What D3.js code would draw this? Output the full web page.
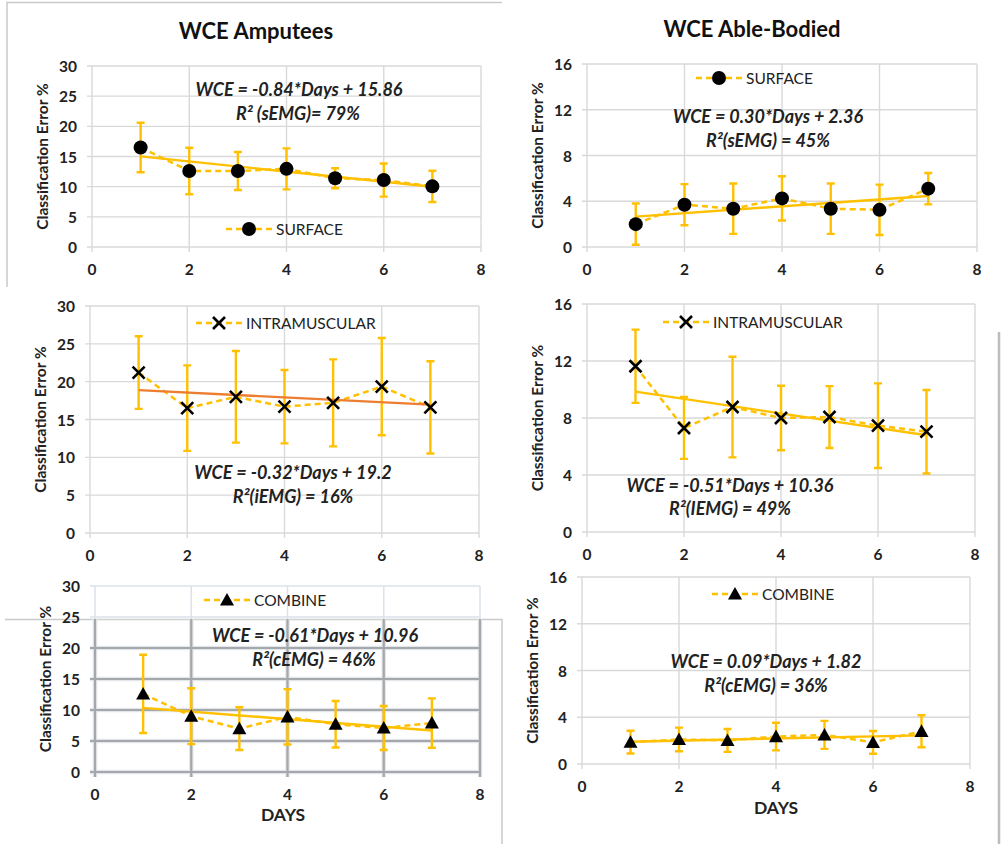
<!DOCTYPE html>
<html>
<head>
<meta charset="utf-8">
<script src="https://cdn.jsdelivr.net/npm/d3@7/dist/d3.min.js"></script>
<style>
  html, body { margin: 0; padding: 0; background: #fff; }
  svg { display: block; font-family: Lato, "Open Sans", "Liberation Sans", sans-serif; }
</style>
</head>
<body>
<svg id="chart" width="1002" height="844"></svg>
<script>
// ---- data -------------------------------------------------------------
const days = [1, 2, 3, 4, 5, 6, 7];
const xTicks = [0, 2, 4, 6, 8];
const ticks30 = [0, 5, 10, 15, 20, 25, 30];
const ticks16 = [0, 4, 8, 12, 16];

// Amputees
const ampSurface     = [16.5, 12.6, 12.6, 12.95, 11.4, 11.1, 10.05];
const ampSurfaceErr  = [4.1, 3.85, 3.15, 3.4, 1.65, 2.75, 2.6];
const ampIntra       = [21.2, 16.5, 18.0, 16.7, 17.2, 19.35, 16.6];
const ampIntraErr    = [4.8, 5.65, 6.06, 4.85, 5.75, 6.43, 6.1];
const ampCombine     = [12.6, 9.0, 7.0, 8.9, 7.7, 7.1, 7.9];
const ampCombineErr  = [6.3, 4.5, 3.44, 4.46, 3.76, 3.55, 3.98];

// Able-bodied
const abSurface      = [2.0, 3.7, 3.35, 4.25, 3.35, 3.25, 5.1];
const abSurfaceErr   = [1.8, 1.8, 2.2, 1.93, 2.2, 2.2, 1.37];
const abIntra        = [11.63, 7.3, 8.77, 8.0, 8.07, 7.46, 7.04];
const abIntraErr     = [2.57, 2.17, 3.53, 2.26, 2.17, 2.97, 2.93];
const abCombine      = [1.87, 2.1, 2.02, 2.35, 2.49, 1.85, 2.8];
const abCombineErr   = [0.97, 1.01, 0.98, 1.18, 1.2, 0.97, 1.37];

// linear fits: WCE = slope*Days + intercept
const slopes     = [-0.84, 0.30, -0.32, -0.51, -0.61, 0.09];
const intercepts = [15.86, 2.36, 19.2, 10.36, 10.96, 1.82];
const eqLabels = [
  "WCE = -0.84*Days + 15.86",
  "WCE = 0.30*Days + 2.36",
  "WCE = -0.32*Days + 19.2",
  "WCE = -0.51*Days + 10.36",
  "WCE = -0.61*Days + 10.96",
  "WCE = 0.09*Days + 1.82"
];
const r2Labels = [
  "R\u00B2 (sEMG)= 79%",
  "R\u00B2(sEMG) = 45%",
  "R\u00B2(iEMG) = 16%",
  "R\u00B2(IEMG) = 49%",
  "R\u00B2(cEMG) = 46%",
  "R\u00B2(cEMG) = 36%"
];
const seriesNames = ["SURFACE", "SURFACE", "INTRAMUSCULAR", "INTRAMUSCULAR", "COMBINE", "COMBINE"];
const seriesValues = [ampSurface, abSurface, ampIntra, abIntra, ampCombine, abCombine];
const seriesErrors = [ampSurfaceErr, abSurfaceErr, ampIntraErr, abIntraErr, ampCombineErr, abCombineErr];
const markerTypes = ["circle", "circle", "cross", "cross", "triangle", "triangle"];
const columnTitles = ["WCE Amputees", "WCE Able-Bodied"];

// ---- layout -----------------------------------------------------------
const GOLD = "#FFC000";
const panels = [
  { x0: 92,  x1: 481, y0: 66,  y1: 247, yTicks: ticks30, leg: [226, 229], eq: [299, 89],  r2: [298, 113], trend: GOLD },
  { x0: 587, x1: 977, y0: 64,  y1: 247, yTicks: ticks16, leg: [696, 78],  eq: [768, 116], r2: [768, 140], trend: GOLD },
  { x0: 90,  x1: 479, y0: 306, y1: 533, yTicks: ticks30, leg: [196, 323], eq: [293, 472], r2: [293, 496], trend: "#ED7D31" },
  { x0: 587, x1: 975, y0: 304, y1: 532, yTicks: ticks16, leg: [663, 322], eq: [730, 485], r2: [730, 508], trend: GOLD },
  { x0: 95,  x1: 480, y0: 586, y1: 772, yTicks: ticks30, leg: [204, 600], eq: [315, 635], r2: [314, 659], trend: GOLD, heavySplit: 619, xTitle: [283, 814] },
  { x0: 582, x1: 970, y0: 577, y1: 764, yTicks: ticks16, leg: [712, 594], eq: [766, 661], r2: [766, 685], trend: GOLD, xTitle: [776, 807] }
];

const svg = d3.select("#chart");
svg.append("rect").attr("width", 1002).attr("height", 844).attr("fill", "#fff");

// frame edges of the assembled figure
const frame = svg.append("g").attr("fill", "none").attr("stroke", "#c9c9c9").attr("stroke-width", 1.5);
frame.append("path").attr("d", "M7,287 L7,2.5 L502,2.5");
frame.append("path").attr("d", "M5,619.5 L502,619.5 L502,844");
frame.append("path").attr("d", "M999,332 L999,844").attr("stroke", "#bdbdbd").attr("stroke-width", 2.5);

// column titles
svg.append("text").attr("x", 256).attr("y", 30).text(columnTitles[0]);
svg.append("text").attr("x", 752).attr("y", 28).text(columnTitles[1]);
svg.selectAll("text").attr("text-anchor", "middle").attr("dominant-baseline", "central")
  .attr("font-size", 22).attr("font-weight", 700).attr("fill", "#111");

function drawMarker(g, type, cx, cy) {
  if (type === "circle") {
    g.append("circle").attr("cx", cx).attr("cy", cy).attr("r", 7).attr("fill", "#000");
  } else if (type === "cross") {
    const s = 6;
    g.append("path")
      .attr("d", `M${cx - s},${cy - s}L${cx + s},${cy + s}M${cx - s},${cy + s}L${cx + s},${cy - s}`)
      .attr("stroke", "#000").attr("stroke-width", 2.6).attr("fill", "none");
  } else {
    const s = 7;
    g.append("path")
      .attr("d", `M${cx},${cy - s}L${cx + s},${cy + s * 0.8}L${cx - s},${cy + s * 0.8}Z`)
      .attr("fill", "#000");
  }
}

panels.forEach((p, i) => {
  const g = svg.append("g");
  const x = d3.scaleLinear().domain([0, 8]).range([p.x0, p.x1]);
  const yMax = d3.max(p.yTicks);
  const y = d3.scaleLinear().domain([0, yMax]).range([p.y1, p.y0]);

  // grid + tick marks
  const drawGrid = (sel, color, width) => {
    sel.selectAll(".hg").data(p.yTicks).join("line")
      .attr("x1", p.x0 - 5).attr("x2", p.x1)
      .attr("y1", d => y(d)).attr("y2", d => y(d))
      .attr("stroke", color).attr("stroke-width", width);
    sel.selectAll(".vg").data(xTicks).join("line").attr("class", "vg")
      .attr("x1", d => x(d)).attr("x2", d => x(d))
      .attr("y1", p.y0).attr("y2", p.y1 + 5)
      .attr("stroke", color).attr("stroke-width", width);
  };
  if (p.heavySplit) {
    const id = "clip" + i;
    const defs = svg.append("defs");
    defs.append("clipPath").attr("id", id + "a").append("rect")
      .attr("x", 0).attr("y", 0).attr("width", 1002).attr("height", p.heavySplit);
    defs.append("clipPath").attr("id", id + "b").append("rect")
      .attr("x", 0).attr("y", p.heavySplit).attr("width", 1002).attr("height", 844 - p.heavySplit);
    drawGrid(g.append("g").attr("clip-path", `url(#${id}a)`), "#dbe2ea", 1.5);
    const heavy = g.append("g").attr("clip-path", `url(#${id}b)`);
    drawGrid(heavy.append("g"), "#e4e6e9", 4.5);
    drawGrid(heavy.append("g"), "#a4a7ab", 2.2);
  } else {
    drawGrid(g.append("g"), "#d9d9d9", 1.4);
  }

  // tick labels
  g.append("g").selectAll("text").data(p.yTicks).join("text")
    .attr("x", p.x0 - 15).attr("y", d => y(d)).attr("text-anchor", "end")
    .attr("dominant-baseline", "central").attr("font-size", 15.5).attr("font-weight", 700)
    .attr("fill", "#222").text(d => d);
  g.append("g").selectAll("text").data(xTicks).join("text")
    .attr("x", d => x(d)).attr("y", p.y1 + 22).attr("text-anchor", "middle")
    .attr("dominant-baseline", "central").attr("font-size", 15.5).attr("font-weight", 700)
    .attr("fill", "#222").text(d => d);

  // axis titles
  g.append("text")
    .attr("transform", `translate(${p.x0 - 50},${(p.y0 + p.y1) / 2}) rotate(-90)`)
    .attr("text-anchor", "middle").attr("dominant-baseline", "central")
    .attr("font-size", 15.5).attr("font-weight", 700).attr("fill", "#222")
    .text("Classification Error %");
  if (p.xTitle) {
    g.append("text").attr("x", p.xTitle[0]).attr("y", p.xTitle[1])
      .attr("text-anchor", "middle").attr("dominant-baseline", "central")
      .attr("font-size", 17.5).attr("font-weight", 700).attr("fill", "#222").text("DAYS");
  }

  const vals = seriesValues[i], errs = seriesErrors[i];
  const pts = days.map((d, k) => ({ d, v: vals[k], e: errs[k] }));

  // error bars
  const eb = g.append("g").attr("stroke", GOLD).attr("stroke-width", 2.4).attr("fill", "none");
  pts.forEach(q => {
    const xt = x(q.d), yt = y(q.v + q.e), yb = y(q.v - q.e);
    eb.append("path").attr("d", `M${xt},${yt}L${xt},${yb}M${xt - 4},${yt}L${xt + 4},${yt}M${xt - 4},${yb}L${xt + 4},${yb}`);
  });

  // dashed series line
  g.append("path").datum(pts)
    .attr("d", d3.line().x(q => x(q.d)).y(q => y(q.v)))
    .attr("fill", "none").attr("stroke", GOLD).attr("stroke-width", 2.5)
    .attr("stroke-dasharray", "6,4");

  // linear trend line
  const tx = d3.extent(days);
  g.append("path").datum(tx)
    .attr("d", d3.line().x(d => x(d)).y(d => y(slopes[i] * d + intercepts[i])))
    .attr("fill", "none").attr("stroke", p.trend).attr("stroke-width", 2.4);

  // markers
  pts.forEach(q => drawMarker(g, markerTypes[i], x(q.d), y(q.v)));

  // legend
  const [lx, ly] = p.leg;
  g.append("line").attr("x1", lx).attr("x2", lx + 46).attr("y1", ly).attr("y2", ly)
    .attr("stroke", GOLD).attr("stroke-width", 2.5).attr("stroke-dasharray", "6,4");
  drawMarker(g, markerTypes[i], lx + 23, ly);
  g.append("text").attr("x", lx + 50).attr("y", ly).attr("dominant-baseline", "central")
    .attr("font-size", 15.5).attr("fill", "#222").text(seriesNames[i]);

  // regression annotation
  [[p.eq, eqLabels[i]], [p.r2, r2Labels[i]]].forEach(([pos, txt]) => {
    g.append("text").attr("x", pos[0]).attr("y", pos[1])
      .attr("text-anchor", "middle").attr("dominant-baseline", "central")
      .attr("font-size", 18).attr("font-weight", 700).attr("font-style", "italic")
      .attr("fill", "#222").text(txt);
  });
});
</script>
</body>
</html>
